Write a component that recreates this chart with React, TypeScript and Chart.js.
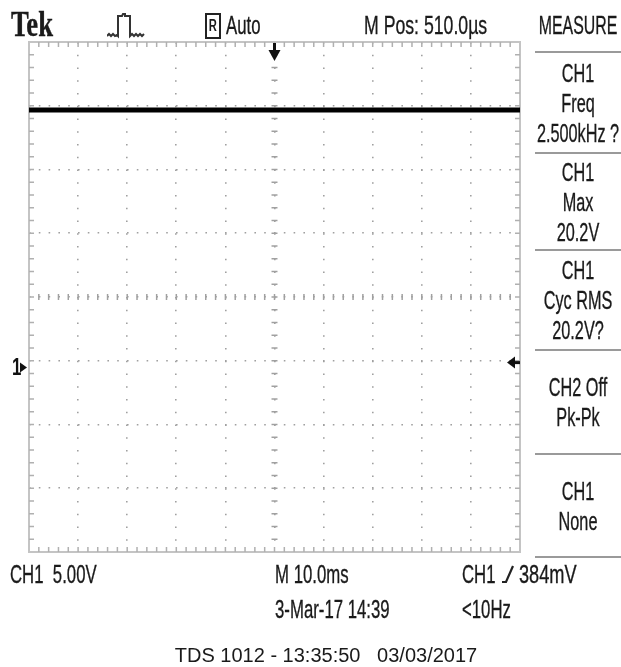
import React, { useEffect, useRef } from "react";
import { Chart, registerables } from "chart.js";

Chart.register(...registerables);

// ---- data ----
const timeMs = [0, 10, 20, 30, 40, 50, 60, 70, 80, 90, 100];
const ch1Volts = [20.2, 20.2, 20.2, 20.2, 20.2, 20.2, 20.2, 20.2, 20.2, 20.2, 20.2];
const voltsPerDiv = 5;
const msPerDiv = 10;
const horizontalDivs = 10;
const verticalDivs = 8;
const screenTopVolts = 25.53;
const triggerTimeMs = 50;
const triggerLevelVolts = 0.384;
const groundVolts = 0;

const measureBoxes = [
  ["CH1", "Freq", "2.500kHz ?"],
  ["CH1", "Max", "20.2V"],
  ["CH1", "Cyc RMS", "20.2V?"],
  ["CH2 Off", "Pk-Pk"],
  ["CH1", "None"],
];
const measureLineY = [52, 153, 250, 350, 454, 557];

const FONT = "'Liberation Sans', Arial, sans-serif";
const INK = "#1a1a1a";

const yMin = screenTopVolts - verticalDivs * voltsPerDiv;
const yMax = screenTopVolts;
const xMin = timeMs[0];
const xMax = timeMs[0] + horizontalDivs * msPerDiv;

const scopePlugin = {
  id: "scope",
  beforeDatasetsDraw(chart: any) {
    const { ctx, chartArea: a, scales } = chart;
    const xs = scales.x;
    const ys = scales.y;
    const cx = xs.getPixelForValue(xMin + (horizontalDivs / 2) * msPerDiv);
    const cy = ys.getPixelForValue(yMin + (verticalDivs / 2) * voltsPerDiv);
    ctx.save();
    ctx.strokeStyle = "#a0a0a0";
    ctx.lineWidth = 1.5;
    for (let i = 0; i <= verticalDivs * 5; i++) {
      const y = ys.getPixelForValue(yMin + (i * voltsPerDiv) / 5);
      ctx.beginPath();
      ctx.moveTo(cx - 3, y);
      ctx.lineTo(cx + 3, y);
      ctx.stroke();
    }
    for (let i = 0; i <= horizontalDivs * 5; i++) {
      const x = xs.getPixelForValue(xMin + (i * msPerDiv) / 5);
      ctx.beginPath();
      ctx.moveTo(x, cy - 3);
      ctx.lineTo(x, cy + 3);
      ctx.stroke();
    }
    ctx.strokeStyle = "#c4c4c4";
    ctx.lineWidth = 2;
    ctx.strokeRect(a.left, a.top, a.right - a.left, a.bottom - a.top);
    ctx.lineWidth = 1.5;
    ctx.strokeStyle = "#b0b0b0";
    for (let i = 1; i < horizontalDivs * 5; i++) {
      const x = xs.getPixelForValue(xMin + (i * msPerDiv) / 5);
      ctx.beginPath();
      ctx.moveTo(x, a.top);
      ctx.lineTo(x, a.top + 5);
      ctx.moveTo(x, a.bottom);
      ctx.lineTo(x, a.bottom - 5);
      ctx.stroke();
    }
    for (let i = 1; i < verticalDivs * 5; i++) {
      const y = ys.getPixelForValue(yMin + (i * voltsPerDiv) / 5);
      ctx.beginPath();
      ctx.moveTo(a.left, y);
      ctx.lineTo(a.left + 5, y);
      ctx.moveTo(a.right, y);
      ctx.lineTo(a.right - 5, y);
      ctx.stroke();
    }
    ctx.restore();
  },
  afterDraw(chart: any) {
    const { ctx, chartArea: a, scales } = chart;
    const xs = scales.x;
    const ys = scales.y;
    ctx.save();
    ctx.fillStyle = "#111";
    ctx.strokeStyle = "#111";
    const tx = xs.getPixelForValue(triggerTimeMs);
    ctx.lineWidth = 3;
    ctx.beginPath();
    ctx.moveTo(tx, a.top + 1);
    ctx.lineTo(tx, a.top + 10);
    ctx.stroke();
    ctx.beginPath();
    ctx.moveTo(tx - 6, a.top + 8);
    ctx.lineTo(tx + 6, a.top + 8);
    ctx.lineTo(tx, a.top + 19);
    ctx.closePath();
    ctx.fill();
    const ty = ys.getPixelForValue(triggerLevelVolts);
    ctx.beginPath();
    ctx.moveTo(a.right - 13, ty);
    ctx.lineTo(a.right - 5, ty - 6);
    ctx.lineTo(a.right - 5, ty + 6);
    ctx.closePath();
    ctx.fill();
    ctx.lineWidth = 3;
    ctx.beginPath();
    ctx.moveTo(a.right - 6, ty);
    ctx.lineTo(a.right, ty);
    ctx.stroke();
    const gy = ys.getPixelForValue(groundVolts);
    ctx.beginPath();
    ctx.moveTo(a.left - 9, gy - 5);
    ctx.lineTo(a.left - 2, gy);
    ctx.lineTo(a.left - 9, gy + 5);
    ctx.closePath();
    ctx.fill();
    ctx.translate(a.left - 17, gy);
    ctx.scale(0.7, 1);
    ctx.font = `bold 24px ${FONT}`;
    ctx.textAlign = "left";
    ctx.textBaseline = "middle";
    ctx.fillText("1", 0, 1);
    ctx.restore();
  },
};

type TProps = {
  x: number;
  y: number;
  text: string;
  size?: number;
  sx?: number;
  center?: boolean;
  family?: string;
  weight?: string | number;
  stroke?: number;
};

function T({ x, y, text, size = 26, sx = 0.645, center = false, family = FONT, weight = "normal", stroke = 0.35 }: TProps) {
  return (
    <div
      style={{
        position: "absolute",
        left: x,
        top: y,
        fontFamily: family,
        fontSize: size,
        fontWeight: weight as any,
        lineHeight: 1,
        whiteSpace: "pre",
        color: INK,
        WebkitTextStroke: stroke ? `${stroke}px ${INK}` : undefined,
        transformOrigin: center ? "center center" : "left center",
        transform: center ? `translate(-50%, -50%) scaleX(${sx})` : `translateY(-50%) scaleX(${sx})`,
      }}
    >
      {text}
    </div>
  );
}

export default function App() {
  const ref = useRef<HTMLCanvasElement | null>(null);

  useEffect(() => {
    if (!ref.current) return;
    const chart = new Chart(ref.current, {
      type: "line",
      data: {
        datasets: [
          {
            data: timeMs.map((t, i) => ({ x: t, y: ch1Volts[i] })),
            borderColor: "#000",
            borderWidth: 5,
            pointRadius: 0,
            tension: 0,
          },
        ],
      },
      options: {
        responsive: false,
        animation: false,
        layout: { padding: { left: 29, top: 42, right: 101, bottom: 115 } },
        plugins: { legend: { display: false }, tooltip: { enabled: false } },
        scales: {
          x: {
            type: "linear",
            min: xMin,
            max: xMax,
            afterBuildTicks: (s: any) => {
              s.ticks = Array.from({ length: horizontalDivs + 1 }, (_, i) => ({ value: xMin + i * msPerDiv }));
            },
            ticks: { display: false },
            grid: { color: "#a0a0a0", lineWidth: 1.6, drawTicks: false },
            border: { display: false, dash: [1.6, 11.15] },
          },
          y: {
            type: "linear",
            min: yMin,
            max: yMax,
            afterBuildTicks: (s: any) => {
              s.ticks = Array.from({ length: verticalDivs + 1 }, (_, i) => ({ value: yMin + i * voltsPerDiv }));
            },
            ticks: { display: false },
            grid: { color: "#a0a0a0", lineWidth: 1.6, drawTicks: false },
            border: { display: false, dash: [1.6, 8.2] },
          },
        },
      } as any,
      plugins: [scopePlugin],
    });
    return () => chart.destroy();
  }, []);

  const boxRows: JSX.Element[] = [];
  measureBoxes.forEach((rows, bi) => {
    const top = measureLineY[bi];
    const bottom = measureLineY[bi + 1];
    const mid = (top + bottom) / 2;
    const step = 30;
    rows.forEach((r, ri) => {
      const y = mid + (ri - (rows.length - 1) / 2) * step;
      boxRows.push(<T key={`${bi}-${ri}`} x={578} y={y} text={r} center sx={0.625} />);
    });
  });

  return (
    <div style={{ position: "fixed", left: 0, top: 0, width: 621, height: 667, background: "#fff", overflow: "hidden" }}>
      <canvas ref={ref} width={621} height={667} style={{ position: "absolute", left: 0, top: 0, width: 621, height: 667 }} />
      {/* header */}
      <T x={11} y={24} text="Tek" size={36} sx={0.74} family="'Liberation Serif', serif" weight="bold" stroke={0.4} />
      <svg style={{ position: "absolute", left: 107, top: 13 }} width={38} height={26} viewBox="0 0 38 26">
        <path
          d="M0 23 l2 -2 l2 2 l2 -2 l2 2 l2 -1 L11 23 L11 3 L15 3 L16 1 L18 1 L18 3 L23 3 L23 23 l2 -2 l2 2 l2 -2 l2 2 l2 -2 l2 2 l2 -2"
          fill="none"
          stroke="#333"
          strokeWidth={2}
        />
      </svg>
      <div
        style={{
          position: "absolute",
          left: 205,
          top: 13,
          width: 12,
          height: 22,
          border: "2px solid #222",
          display: "flex",
          alignItems: "center",
          justifyContent: "center",
          fontFamily: FONT,
          fontSize: 16,
          fontWeight: "bold",
          color: INK,
        }}
      >
        <span style={{ transform: "scaleX(0.7)" }}>R</span>
      </div>
      <T x={226} y={25} text="Auto" />
      <T x={364} y={25} text="M Pos: 510.0µs" sx={0.68} />
      <T x={578} y={25} text="MEASURE" center sx={0.61} />
      {/* measurement panel */}
      {measureLineY.map((y, i) => (
        <div key={i} style={{ position: "absolute", left: 535, top: y - 1, width: 86, height: 2, background: "#9a9a9a" }} />
      ))}
      {boxRows}
      {/* bottom status */}
      <T x={10} y={574} text="CH1  5.00V" />
      <T x={275} y={574} text="M 10.0ms" />
      <T x={462} y={574} text="CH1" />
      <svg style={{ position: "absolute", left: 501, top: 564 }} width={14} height={20} viewBox="0 0 14 20">
        <path d="M1 18 L5 18 L12 2" fill="none" stroke="#222" strokeWidth={2.2} />
      </svg>
      <T x={519} y={574} text="384mV" sx={0.7} />
      <T x={275} y={609} text="3-Mar-17 14:39" />
      <T x={462} y={609} text="<10Hz" />
      <T x={326} y={655} text="TDS 1012 - 13:35:50   03/03/2017" size={20} sx={1} center stroke={0} />
    </div>
  );
}
